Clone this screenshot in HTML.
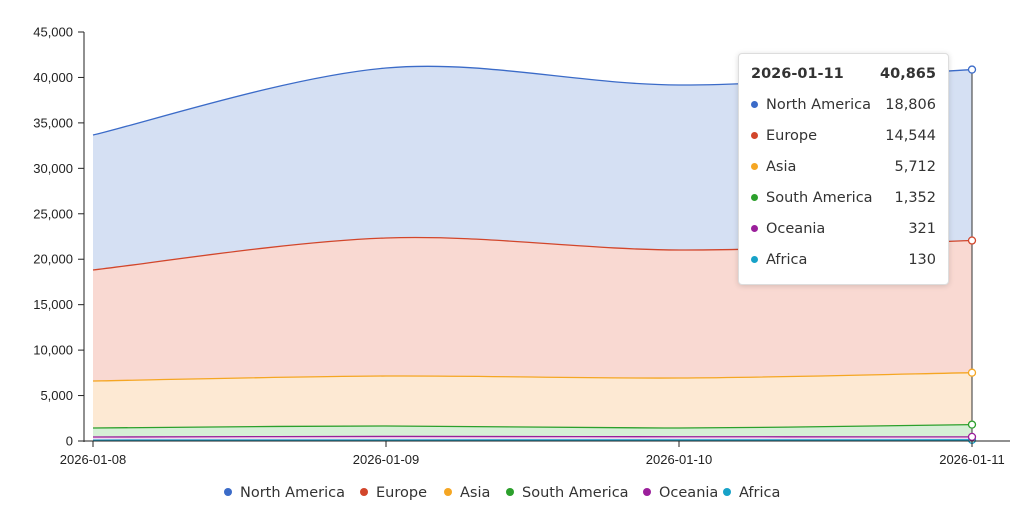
<!DOCTYPE html>
<html><head><meta charset="utf-8"><style>
body{margin:0;background:#fff;width:1024px;height:514px;overflow:hidden;font-family:"Liberation Sans",sans-serif}
.tt{position:absolute;left:738px;top:53px;width:209px;height:230px;background:#fff;border:1px solid #ddd;border-radius:4px;box-shadow:0 1px 6px rgba(0,0,0,.15);font-family:"DejaVu Sans","Liberation Sans",sans-serif;font-size:14.5px;color:#333}
.row{position:absolute;left:12px;right:12px;height:20px}
.row .v{position:absolute;right:0}
.dot{display:inline-block;width:7px;height:7px;border-radius:50%;margin-right:8px;vertical-align:1px}
</style></head><body>
<svg id="s" width="1024" height="514" style="position:absolute;left:0;top:0" font-family="Liberation Sans, sans-serif" font-size="13"></svg>
<div class="tt">
<div class="row" style="top:12px;font-weight:bold">2026-01-11<span class="v">40,865</span></div>
<div class="row" style="top:43px"><span class="dot" style="background:#3b6bc8"></span>North America<span class="v">18,806</span></div>
<div class="row" style="top:74px"><span class="dot" style="background:#d2462b"></span>Europe<span class="v">14,544</span></div>
<div class="row" style="top:105px"><span class="dot" style="background:#f5a623"></span>Asia<span class="v">5,712</span></div>
<div class="row" style="top:136px"><span class="dot" style="background:#2ca02c"></span>South America<span class="v">1,352</span></div>
<div class="row" style="top:167px"><span class="dot" style="background:#9b1f9b"></span>Oceania<span class="v">321</span></div>
<div class="row" style="top:198px"><span class="dot" style="background:#17a2c8"></span>Africa<span class="v">130</span></div>
</div>
<script>
const X=[93,386,679,972],y0=441,k=409/45000;
const tops=[
[100,110,120,130],
[440,500,470,451],
[1430,1650,1430,1803],
[6601,7150,6930,7515],
[18814,22335,21015,22059],
[33668,41040,39170,40865]];
const cols=["#17a2c8","#9b1f9b","#2ca02c","#f5a623","#d2462b","#3b6bc8"];
const fills=["#d0eef5","#f0d8f0","#d6efd6","#fde9d3","#f9d9d2","#d5e0f3"];
function pts(a){return a.map((v,i)=>[X[i],y0-v*k]);}
function path(p){let d="";for(let i=0;i<p.length-1;i++){const p0=p[Math.max(i-1,0)],p1=p[i],p2=p[i+1],p3=p[Math.min(i+2,p.length-1)];
const c1=[p1[0]+(p2[0]-p0[0])/6,p1[1]+(p2[1]-p0[1])/6],c2=[p2[0]-(p3[0]-p1[0])/6,p2[1]-(p3[1]-p1[1])/6];
d+=`C${c1[0]},${c1[1]} ${c2[0]},${c2[1]} ${p2[0]},${p2[1]}`;}return d;}
let s="";
for(let i=tops.length-1;i>=0;i--){const p=pts(tops[i]);s+=`<path d="M${p[0]}${path(p)}L972,441L93,441Z" fill="${fills[i]}"/>`;}
for(let i=0;i<tops.length;i++){const p=pts(tops[i]);s+=`<path d="M${p[0]}${path(p)}" fill="none" stroke="${cols[i]}" stroke-width="1.3"/>`;}
s+=`<line x1="972" y1="69" x2="972" y2="441" stroke="#333"/>`;
for(let i=0;i<tops.length;i++){const y=y0-tops[i][3]*k;s+=`<circle cx="972" cy="${y}" r="3.5" fill="#fff" stroke="${cols[i]}" stroke-width="1.3"/>`;}
s+=`<line x1="84" y1="32" x2="84" y2="442" stroke="#222"/><line x1="84" y1="441" x2="1010" y2="441" stroke="#222"/>`;
for(let v=0;v<=45000;v+=5000){const y=y0-v*k;s+=`<line x1="78" y1="${y}" x2="84" y2="${y}" stroke="#222"/><text x="73" y="${y+4.5}" text-anchor="end" fill="#222">${v.toLocaleString('en-US')}</text>`;}
const L=["2026-01-08","2026-01-09","2026-01-10","2026-01-11"];
X.forEach((x,i)=>{s+=`<line x1="${x}" y1="441" x2="${x}" y2="447" stroke="#222"/><text x="${x}" y="464" text-anchor="middle" fill="#222">${L[i]}</text>`;});
const leg=[["North America",228,"#3b6bc8"],["Europe",364,"#d2462b"],["Asia",448,"#f5a623"],["South America",510,"#2ca02c"],["Oceania",647,"#9b1f9b"],["Africa",727,"#17a2c8"]];
leg.forEach(l=>{s+=`<circle cx="${l[1]}" cy="492" r="4" fill="${l[2]}"/><text x="${l[1]+12}" y="497" font-family="DejaVu Sans, sans-serif" font-size="14.5" fill="#333">${l[0]}</text>`;});
document.getElementById("s").innerHTML=s;
</script>
</body></html>
